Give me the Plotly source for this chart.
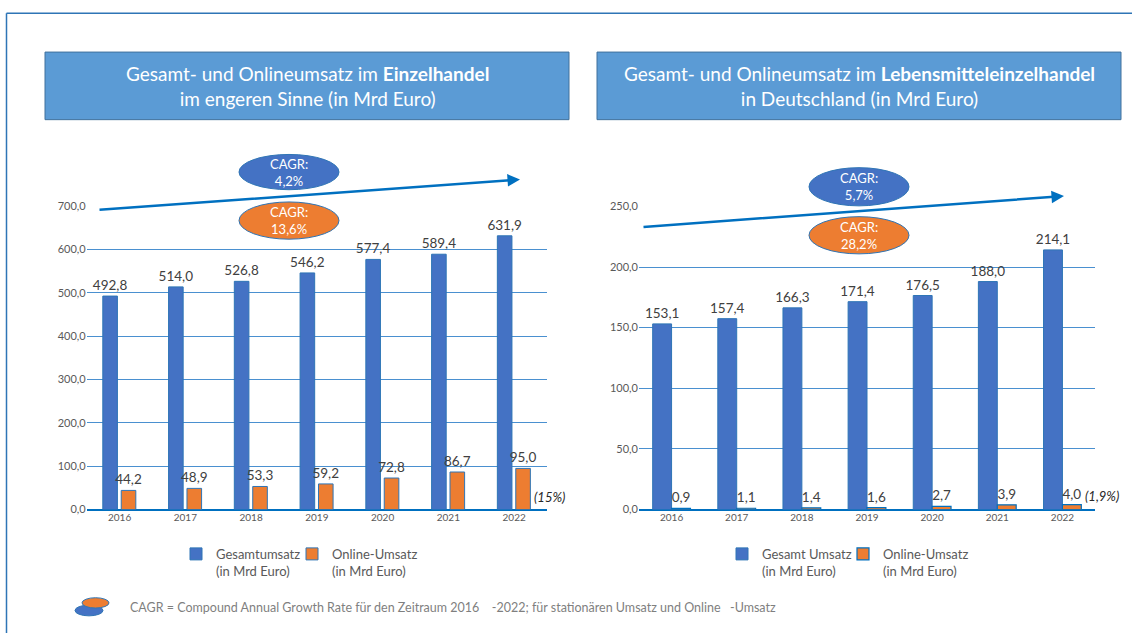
import plotly.graph_objects as go

W, H = 1132, 639

years = ["2016", "2017", "2018", "2019", "2020", "2021", "2022"]
ezh_gesamt = [492.8, 514.0, 526.8, 546.2, 577.4, 589.4, 631.9]
ezh_online = [44.2, 48.9, 53.3, 59.2, 72.8, 86.7, 95.0]
leh_gesamt = [153.1, 157.4, 166.3, 171.4, 176.5, 188.0, 214.1]
leh_online = [0.9, 1.1, 1.4, 1.6, 2.7, 3.9, 4.0]

cagr_ezh_gesamt = "4,2%"
cagr_ezh_online = "13,6%"
cagr_leh_gesamt = "5,7%"
cagr_leh_online = "28,2%"
share_ezh = "(15%)"
share_leh = "(1,9%)"

FONT = "Lato, 'Open Sans', sans-serif"
BLUE = "#4472C4"
ORANGE = "#ED7D31"
OUTLINE = "#2E75B6"
GRID = "#4A90D0"
TXT = "#404040"


def px(x):
    return x / W


def py(y):
    return 1 - y / H


fig = go.Figure()

# Left chart (Einzelhandel)
fig.add_trace(go.Bar(
    x=years, y=ezh_gesamt, name="Gesamtumsatz<br>(in Mrd Euro)",
    marker=dict(color=BLUE, line=dict(color=OUTLINE, width=1)),
    width=0.222, offset=-0.255,
    text=ezh_gesamt, texttemplate="%{y:.1f}", textposition="outside",
    textfont=dict(size=13.5, color=TXT, family=FONT), constraintext="none",
    cliponaxis=False, xaxis="x", yaxis="y", legend="legend",
))
fig.add_trace(go.Bar(
    x=years, y=ezh_online, name="Online-Umsatz<br>(in Mrd Euro)",
    marker=dict(color=ORANGE, line=dict(color=OUTLINE, width=1)),
    width=0.222, offset=0.025,
    text=ezh_online, texttemplate="%{y:.1f}", textposition="outside",
    textfont=dict(size=13.5, color=TXT, family=FONT), constraintext="none",
    cliponaxis=False, xaxis="x", yaxis="y", legend="legend2",
))
# Right chart (Lebensmitteleinzelhandel)
fig.add_trace(go.Bar(
    x=years, y=leh_gesamt, name="Gesamt Umsatz<br>(in Mrd Euro)",
    marker=dict(color=BLUE, line=dict(color=OUTLINE, width=1)),
    width=0.29, offset=-0.29,
    text=leh_gesamt, texttemplate="%{y:.1f}", textposition="outside",
    textfont=dict(size=13.5, color=TXT, family=FONT), constraintext="none",
    cliponaxis=False, xaxis="x2", yaxis="y2", legend="legend3",
))
fig.add_trace(go.Bar(
    x=years, y=leh_online, name="Online-Umsatz<br>(in Mrd Euro)",
    marker=dict(color=ORANGE, line=dict(color="#0070C0", width=1.2)),
    width=0.29, offset=0.0,
    text=leh_online, texttemplate="%{y:.1f}", textposition="outside",
    textfont=dict(size=13.5, color=TXT, family=FONT), constraintext="none",
    cliponaxis=False, xaxis="x2", yaxis="y2", legend="legend4",
))

ydom = [py(513), py(203)]
xcommon = dict(type="category", range=[-0.5, 6.5], showgrid=False, showline=False,
               ticks="", tickfont=dict(size=10, color="#595959", family=FONT))
ycommon = dict(showgrid=True, gridcolor=GRID, gridwidth=1.2, zeroline=True,
               zerolinecolor="#0070C0", zerolinewidth=1.5, showline=False, ticks="",
               tickformat=".1f", tickfont=dict(size=11, color="#595959", family=FONT),
               domain=ydom)

legcommon = dict(orientation="v", yanchor="top", xanchor="left", valign="top",
                 bgcolor="rgba(0,0,0,0)", itemwidth=30,
                 font=dict(size=13, color="#595959", family=FONT))

fig.update_layout(
    width=W, height=H, margin=dict(l=0, r=0, t=0, b=0),
    paper_bgcolor="white", plot_bgcolor="white",
    separators=",.", barmode="overlay", showlegend=True,
    font=dict(family=FONT),
    xaxis=dict(domain=[px(86.7), px(547)], anchor="y", **xcommon),
    yaxis=dict(range=[0, 701], dtick=100, anchor="x", **ycommon),
    xaxis2=dict(domain=[px(639), px(1095)], anchor="y2", **xcommon),
    yaxis2=dict(range=[0, 250.4], dtick=50, anchor="x2", **ycommon),
    legend=dict(x=px(176), y=py(543), **legcommon),
    legend2=dict(x=px(292), y=py(543), **legcommon),
    legend3=dict(x=px(722), y=py(543), **legcommon),
    legend4=dict(x=px(843), y=py(543), **legcommon),
)

shapes = []
annotations = []

# outer border
shapes.append(dict(type="line", xref="paper", yref="paper", x0=px(6.5), x1=px(6.5), y0=0, y1=py(6.5),
                   line=dict(color=OUTLINE, width=1.5)))
shapes.append(dict(type="line", xref="paper", yref="paper", x0=px(6.5), x1=1, y0=py(6.5), y1=py(6.5),
                   line=dict(color=OUTLINE, width=1.5)))

# title boxes
for (x0, x1, l1, l2) in [
    (45, 569, "Gesamt- und Onlineumsatz im <b>Einzelhandel</b>", "im engeren Sinne (in Mrd Euro)"),
    (597, 1121, "Gesamt- und Onlineumsatz im <b>Lebensmitteleinzelhandel</b>", "in Deutschland (in Mrd Euro)"),
]:
    shapes.append(dict(type="rect", xref="paper", yref="paper", x0=px(x0), x1=px(x1), y0=py(115), y1=py(46),
                       fillcolor="#5B9BD5", line=dict(color="#41719C", width=1)))
    annotations.append(dict(xref="paper", yref="paper", x=px((x0 + x1) / 2), y=py(80.5),
                            xanchor="center", yanchor="middle",
                            text=l1 + "<br>" + l2, showarrow=False, align="center",
                            font=dict(size=19, color="white", family=FONT)))


# CAGR ellipses and arrows
def ellipse(cx, cy, w, h, color, label):
    shapes.append(dict(type="circle", xref="paper", yref="paper",
                       x0=px(cx - w / 2), x1=px(cx + w / 2), y0=py(cy + h / 2), y1=py(cy - h / 2),
                       fillcolor=color, line=dict(color="#2F75B5", width=1)))
    annotations.append(dict(xref="paper", yref="paper", x=px(cx), y=py(cy), text="CAGR:<br>" + label,
                            xanchor="center", yanchor="middle",
                            showarrow=False, font=dict(size=13, color="white", family=FONT)))


def arrow(x0, y0, x1, y1):
    annotations.append(dict(xref="paper", yref="paper", x=px(x1), y=py(y1), ax=x0 - x1, ay=y0 - y1,
                            axref="pixel", ayref="pixel", text="", showarrow=True,
                            arrowhead=2, arrowsize=1.0, arrowwidth=2.5, arrowcolor="#0070C0"))


arrow(98, 206.5, 520, 176)
ellipse(289, 168.5, 100, 36, BLUE, cagr_ezh_gesamt)
ellipse(289, 218, 100, 38, ORANGE, cagr_ezh_online)

arrow(642, 224, 1064, 193)
ellipse(859, 183.5, 100, 39, BLUE, cagr_leh_gesamt)
ellipse(859, 233, 100, 38, ORANGE, cagr_leh_online)

# share annotations
annotations.append(dict(xref="paper", yref="paper", x=px(532), y=py(500), xanchor="left", yanchor="middle",
                        text="<i>" + share_ezh + "</i>",
                        showarrow=False, font=dict(size=13, color="#262626", family=FONT)))
annotations.append(dict(xref="paper", yref="paper", x=px(1083), y=py(499), xanchor="left", yanchor="middle",
                        text="<i>" + share_leh + "</i>",
                        showarrow=False, font=dict(size=13, color="#262626", family=FONT)))

# footer icon + text
shapes.append(dict(type="circle", xref="paper", yref="paper", x0=px(75), x1=px(103), y0=py(621.5), y1=py(610.5),
                   fillcolor=BLUE, line=dict(color="#2F75B5", width=1)))
shapes.append(dict(type="circle", xref="paper", yref="paper", x0=px(82), x1=px(109), y0=py(613.5), y1=py(603),
                   fillcolor=ORANGE, line=dict(color="#2F75B5", width=1)))
annotations.append(dict(xref="paper", yref="paper", x=px(128), y=py(612.5), xanchor="left", yanchor="middle",
                        text="CAGR = Compound Annual Growth Rate für den Zeitraum 2016\u2003 -2022; für stationären Umsatz und Online\u2002 -Umsatz",
                        showarrow=False, font=dict(size=12.5, color="#7F7F7F", family=FONT)))

fig.update_layout(shapes=shapes, annotations=annotations)

fig.write_html("out.html")
